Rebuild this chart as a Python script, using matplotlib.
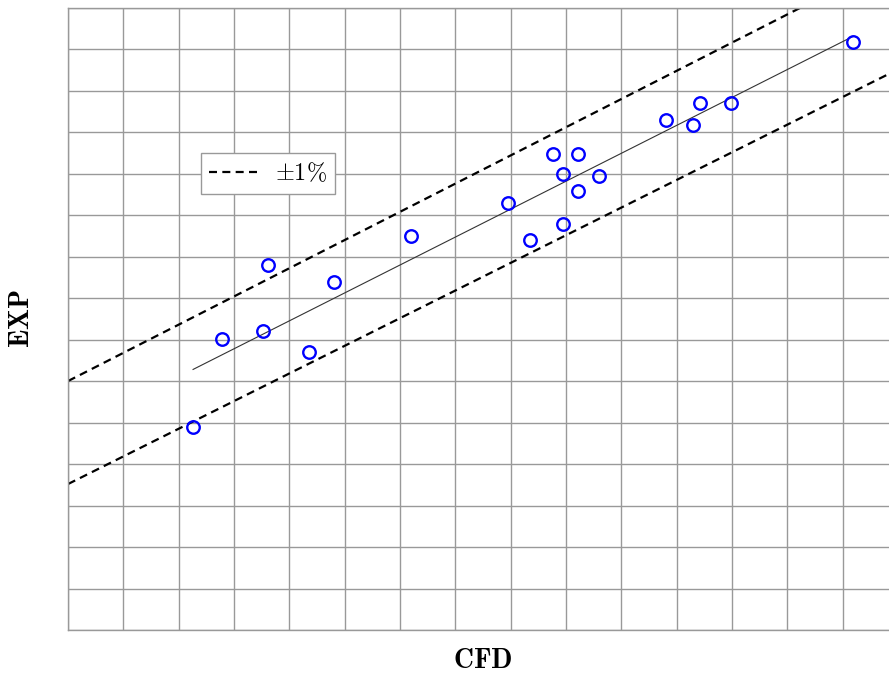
import numpy as np
import matplotlib
matplotlib.use('Agg')
from matplotlib import pyplot as plt

plt.rcParams['mathtext.fontset'] = 'cm'
plt.rcParams['font.family'] = ['serif']
plt.rcParams['font.serif'] = ['DejaVu Serif']

# CFD vs EXP values
cfd = [186.66, 187.18, 187.92, 188.01, 188.76, 189.21, 190.60, 192.35, 192.75, 193.17,
       193.35, 193.35, 193.61, 193.61, 194.00, 195.21, 195.70, 195.82, 196.39, 198.59]
exp = [184.61, 187.75, 188.04, 190.40, 187.28, 189.79, 191.44, 192.61, 191.29, 194.38,
       193.67, 191.87, 194.38, 193.04, 193.59, 195.60, 195.42, 196.20, 196.20, 198.39]
tolerance = 0.01

# axis layout (tick labels are hidden in the reference)
x_start, x_step = 184.4, 1.0
y_start, y_step = 177.33, 1.485
n_cells = 15

fig = plt.figure(figsize=(8.89, 6.75), dpi=100)
ax = fig.add_axes([0.0765, 0.0667, 0.9336, 0.9215])

x_ticks = x_start + x_step * np.arange(n_cells + 1)
y_ticks = y_start + y_step * np.arange(n_cells + 1)
ax.set_xlim(x_ticks[0], x_ticks[-1])
ax.set_ylim(y_ticks[0], y_ticks[-1])
ax.set_xticks(x_ticks)
ax.set_yticks(y_ticks)
ax.tick_params(length=0, labelbottom=False, labelleft=False)
ax.set_axisbelow(True)
ax.grid(True, color='#999999', linewidth=1.0)
for s in ax.spines.values():
    s.set_color('#999999')
    s.set_linewidth(1.0)

xx = np.array([x_ticks[0], x_ticks[-1]])
ax.plot(xx, xx * (1 + tolerance), color='black', lw=1.6, dashes=(3.6, 2.4),
        label=r'$\pm1\%$')
ax.plot(xx, xx * (1 - tolerance), color='black', lw=1.6, dashes=(3.6, 2.4))

xr = np.array([min(cfd), max(cfd)])
ax.plot(xr, xr, color='#333333', lw=0.8)

ax.plot(cfd, exp, linestyle='none', marker='o', markersize=9,
        markerfacecolor='none', markeredgecolor='#0000ff', markeredgewidth=1.7)

leg = ax.legend(loc='upper left', bbox_to_anchor=(0.160, 0.767), borderaxespad=0,
                fontsize=17.5, fancybox=False, framealpha=1, edgecolor='#999999',
                handlelength=2.1, handletextpad=0.6, borderpad=0.35)

ax.set_xlabel(r'$\mathbf{CFD}$', fontsize=20, labelpad=12)
ax.set_ylabel(r'$\mathbf{EXP}$', fontsize=20, labelpad=24)

fig.savefig('out.png', dpi=100)
